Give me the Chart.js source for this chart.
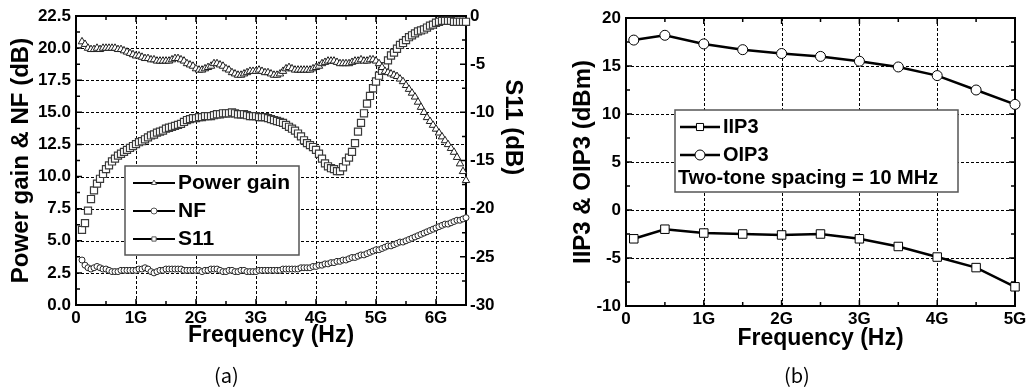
<!DOCTYPE html>
<html>
<head>
<meta charset="utf-8">
<script src="https://cdn.jsdelivr.net/npm/chart.js@4.4.1/dist/chart.umd.min.js"></script>
<style>
  html, body { margin: 0; padding: 0; background: #fff; }
  body { width: 1032px; height: 387px; position: relative; overflow: hidden; }
  #wrapA { position: absolute; left: 0; top: 0; width: 530px; height: 387px; }
  #wrapB { position: absolute; left: 530px; top: 0; width: 502px; height: 387px; }
  .caption { position: absolute; top: 360px; line-height: 24px; font: 20px "Noto Sans CJK KR", "DejaVu Sans", sans-serif; color: #000; }
</style>
</head>
<body>
<div id="wrapA"><canvas id="chartA" width="530" height="387"></canvas></div>
<div id="wrapB"><canvas id="chartB" width="502" height="387"></canvas></div>
<div class="caption" style="left:214px">(a)</div>
<div class="caption" style="left:784px">(b)</div>
<script>
// (a) frequency sweep, GHz
const freqA = [
    0.10, 0.15, 0.20, 0.25, 0.30, 0.35, 0.40, 0.45, 0.50, 0.55,
    0.60, 0.65, 0.70, 0.75, 0.80, 0.85, 0.90, 0.95, 1.00, 1.05,
    1.10, 1.15, 1.20, 1.25, 1.30, 1.35, 1.40, 1.45, 1.50, 1.55,
    1.60, 1.65, 1.70, 1.75, 1.80, 1.85, 1.90, 1.95, 2.00, 2.05,
    2.10, 2.15, 2.20, 2.25, 2.30, 2.35, 2.40, 2.45, 2.50, 2.55,
    2.60, 2.65, 2.70, 2.75, 2.80, 2.85, 2.90, 2.95, 3.00, 3.05,
    3.10, 3.15, 3.20, 3.25, 3.30, 3.35, 3.40, 3.45, 3.50, 3.55,
    3.60, 3.65, 3.70, 3.75, 3.80, 3.85, 3.90, 3.95, 4.00, 4.05,
    4.10, 4.15, 4.20, 4.25, 4.30, 4.35, 4.40, 4.45, 4.50, 4.55,
    4.60, 4.65, 4.70, 4.75, 4.80, 4.85, 4.90, 4.95, 5.00, 5.05,
    5.10, 5.15, 5.20, 5.25, 5.30, 5.35, 5.40, 5.45, 5.50, 5.55,
    5.60, 5.65, 5.70, 5.75, 5.80, 5.85, 5.90, 5.95, 6.00, 6.05,
    6.10, 6.15, 6.20, 6.25, 6.30, 6.35, 6.40, 6.45, 6.50
];
const powerGain = [
    20.5, 20.3, 20.0, 19.9, 19.9, 20.0, 19.9, 20.0, 20.0, 20.0,
    20.0, 20.0, 19.9, 19.9, 19.8, 19.7, 19.6, 19.5, 19.4, 19.4,
    19.3, 19.2, 19.2, 19.1, 19.1, 19.0, 19.0, 19.0, 19.0, 19.0,
    19.1, 19.2, 19.2, 19.1, 19.0, 18.8, 18.7, 18.6, 18.4, 18.3,
    18.3, 18.4, 18.5, 18.6, 18.8, 18.8, 18.7, 18.6, 18.4, 18.3,
    18.1, 18.0, 17.9, 17.9, 18.0, 18.1, 18.2, 18.2, 18.2, 18.3,
    18.2, 18.1, 18.1, 18.0, 17.9, 17.9, 18.0, 18.2, 18.4, 18.5,
    18.4, 18.3, 18.3, 18.3, 18.3, 18.3, 18.3, 18.4, 18.5, 18.6,
    18.8, 18.9, 19.0, 19.0, 19.0, 18.9, 18.8, 18.8, 18.8, 18.8,
    18.9, 19.0, 19.0, 19.1, 19.0, 19.0, 19.1, 19.1, 19.0, 18.8,
    18.5, 18.2, 18.1, 18.0, 17.9, 17.8, 17.6, 17.4, 17.1, 16.8,
    16.5, 16.2, 15.8, 15.4, 15.0, 14.6, 14.3, 14.0, 13.7, 13.4,
    13.1, 12.8, 12.5, 12.2, 11.9, 11.5, 11.0, 10.4, 9.7
];
const noiseFigure = [
    3.5, 3.1, 2.9, 2.8, 2.9, 3.0, 2.9, 2.8, 2.8, 2.7,
    2.6, 2.6, 2.6, 2.7, 2.7, 2.7, 2.7, 2.7, 2.7, 2.8,
    2.8, 2.9, 2.8, 2.6, 2.5, 2.6, 2.7, 2.7, 2.8, 2.8,
    2.8, 2.8, 2.8, 2.8, 2.7, 2.7, 2.7, 2.7, 2.7, 2.7,
    2.6, 2.7, 2.7, 2.8, 2.8, 2.8, 2.7, 2.6, 2.6, 2.7,
    2.7, 2.6, 2.6, 2.7, 2.7, 2.6, 2.6, 2.6, 2.6, 2.7,
    2.7, 2.7, 2.7, 2.7, 2.7, 2.7, 2.7, 2.8, 2.8, 2.8,
    2.8, 2.8, 2.8, 2.9, 2.9, 2.9, 2.9, 3.0, 3.0, 3.1,
    3.1, 3.2, 3.2, 3.3, 3.3, 3.4, 3.4, 3.5, 3.5, 3.6,
    3.7, 3.7, 3.8, 3.9, 3.9, 4.0, 4.1, 4.2, 4.3, 4.3,
    4.4, 4.5, 4.6, 4.6, 4.7, 4.8, 4.9, 4.9, 5.0, 5.1,
    5.2, 5.3, 5.4, 5.5, 5.6, 5.7, 5.8, 5.9, 6.0, 6.1,
    6.2, 6.3, 6.3, 6.4, 6.5, 6.6, 6.6, 6.7, 6.8
];
const s11 = [
    -22.2, -21.5, -20.2, -19.0, -18.1, -17.4, -16.9, -16.4, -15.9, -15.5,
    -15.1, -14.8, -14.5, -14.3, -14.1, -13.9, -13.7, -13.5, -13.3, -13.1,
    -13.0, -12.8, -12.6, -12.4, -12.3, -12.1, -12.0, -11.9, -11.7, -11.6,
    -11.5, -11.4, -11.3, -11.2, -11.0, -10.8, -10.7, -10.6, -10.6, -10.5,
    -10.5, -10.4, -10.4, -10.4, -10.3, -10.2, -10.2, -10.1, -10.1, -10.1,
    -10.0, -10.1, -10.2, -10.2, -10.2, -10.3, -10.4, -10.4, -10.4, -10.5,
    -10.5, -10.5, -10.6, -10.7, -10.8, -10.9, -11.0, -11.1, -11.3, -11.5,
    -11.7, -11.9, -12.2, -12.5, -12.9, -13.2, -13.4, -13.6, -13.9, -14.3,
    -14.8, -15.3, -15.6, -15.8, -15.9, -16.1, -16.1, -15.7, -15.1, -14.7,
    -14.1, -13.2, -12.0, -11.1, -10.1, -9.1, -8.3, -7.5, -6.8, -6.2,
    -5.7, -5.2, -4.6, -4.1, -3.8, -3.4, -3.0, -2.8, -2.5, -2.2,
    -2.0, -1.8, -1.6, -1.5, -1.4, -1.2, -1.0, -0.9, -0.7, -0.6,
    -0.5, -0.5, -0.5, -0.5, -0.6, -0.6, -0.6, -0.6, -0.6
];

// (b) linearity, GHz / dBm
const freqB = [0.1, 0.5, 1.0, 1.5, 2.0, 2.5, 3.0, 3.5, 4.0, 4.5, 5.0];
const iip3 = [-3.0, -2.0, -2.4, -2.5, -2.6, -2.5, -3.0, -3.8, -4.9, -6.0, -8.0];
const oip3 = [17.7, 18.2, 17.3, 16.7, 16.3, 16.0, 15.5, 14.9, 14.0, 12.5, 11.0];
const noteB = "Two-tone spacing = 10 MHz";

const FAMILY = '"Liberation Sans", Arial, sans-serif';
const tickFont = {family: FAMILY, size: 17, weight: "bold"};
const xTitleFont = {family: FAMILY, size: 23, weight: "bold"};
const yTitleFont = {family: FAMILY, size: 24, weight: "bold"};
const noTicks = {display: false, drawTicks: false};

function pts(xs, ys) {
    return xs.map((x, i) => ({x: x, y: ys[i]}));
}
function freqLabel(v) {
    return v === 0 ? "0" : v + "G";
}

function drawMarker(ctx, style, x, y, r, color, lw) {
    ctx.save();
    ctx.setLineDash([]);
    ctx.fillStyle = "#fff";
    ctx.strokeStyle = color;
    ctx.lineWidth = lw;
    ctx.beginPath();
    if (style === "circle") {
        ctx.arc(x, y, r, 0, Math.PI * 2);
    } else if (style === "rect") {
        const s = r * Math.SQRT1_2;
        ctx.rect(x - s, y - s, 2 * s, 2 * s);
    } else {
        const h = r * Math.sqrt(3) / 2;
        ctx.moveTo(x, y - r);
        ctx.lineTo(x + h, y + r / 2);
        ctx.lineTo(x - h, y + r / 2);
        ctx.closePath();
    }
    ctx.fill();
    ctx.stroke();
    ctx.restore();
}

// dashed grid, frame and inward ticks (Origin style)
function makeFrame(cfg) {
    function steps(scale, step) {
        const out = [];
        for (let v = scale.min; v <= scale.max + 1e-9; v += step) out.push(+v.toFixed(6));
        return out;
    }
    function isMajor(v, step) {
        const k = v / step;
        return Math.abs(k - Math.round(k)) < 1e-6;
    }
    return {
        id: "frame",
        beforeDatasetsDraw(chart) {
            const {ctx, chartArea: a, scales} = chart;
            const x = scales.x, y = scales.y, y2 = scales.y2 || scales.y;
            ctx.save();
            ctx.strokeStyle = "#000";
            ctx.lineWidth = 1;
            ctx.setLineDash([3, 2]);
            ctx.beginPath();
            steps(x, cfg.x[0]).forEach(v => {
                if (v <= x.min || v >= x.max) return;
                const px = Math.round(x.getPixelForValue(v)) + 0.5;
                ctx.moveTo(px, a.top);
                ctx.lineTo(px, a.bottom);
            });
            steps(y, cfg.y[0]).forEach(v => {
                if (v <= y.min || v >= y.max) return;
                const py = Math.round(y.getPixelForValue(v)) + 0.5;
                ctx.moveTo(a.left, py);
                ctx.lineTo(a.right, py);
            });
            ctx.stroke();

            ctx.setLineDash([]);
            ctx.lineWidth = 1.5;
            ctx.beginPath();
            steps(x, cfg.x[1]).forEach(v => {
                const px = x.getPixelForValue(v);
                const len = isMajor(v, cfg.x[0]) ? 6 : 4;
                ctx.moveTo(px, a.bottom);
                ctx.lineTo(px, a.bottom - len);
                ctx.moveTo(px, a.top);
                ctx.lineTo(px, a.top + len);
            });
            steps(y, cfg.y[1]).forEach(v => {
                const py = y.getPixelForValue(v);
                const len = isMajor(v, cfg.y[0]) ? 6 : 4;
                ctx.moveTo(a.left, py);
                ctx.lineTo(a.left + len, py);
            });
            steps(y2, cfg.y2[1]).forEach(v => {
                const py = y2.getPixelForValue(v);
                const len = isMajor(v, cfg.y2[0]) ? 6 : 4;
                ctx.moveTo(a.right, py);
                ctx.lineTo(a.right - len, py);
            });
            ctx.stroke();

            ctx.lineWidth = 2;
            ctx.strokeRect(a.left, a.top, a.right - a.left, a.bottom - a.top);
            ctx.restore();
        }
    };
}

// boxed legend inside the plot
function makeLegend(cfg) {
    return {
        id: "boxLegend",
        afterDatasetsDraw(chart) {
            const {ctx, chartArea: a} = chart;
            const bx = a.left + cfg.dx, by = a.top + cfg.dy;
            ctx.save();
            ctx.fillStyle = "#fff";
            ctx.fillRect(bx, by, cfg.w, cfg.h);
            ctx.strokeStyle = cfg.boxColor;
            ctx.lineWidth = 1.5;
            ctx.strokeRect(bx, by, cfg.w, cfg.h);
            ctx.font = cfg.font;
            ctx.textBaseline = "middle";
            chart.data.datasets.forEach((ds, i) => {
                const ly = by + cfg.rows[i];
                ctx.strokeStyle = "#000";
                ctx.lineWidth = cfg.lineWidth;
                ctx.beginPath();
                ctx.moveTo(bx + cfg.lineX[0], ly);
                ctx.lineTo(bx + cfg.lineX[1], ly);
                ctx.stroke();
                drawMarker(ctx, ds.pointStyle, bx + (cfg.lineX[0] + cfg.lineX[1]) / 2, ly,
                    cfg.markerR, cfg.markerColor, 1);
                ctx.fillStyle = "#000";
                ctx.fillText(ds.label, bx + cfg.textX, ly);
            });
            if (cfg.note) {
                ctx.fillStyle = "#000";
                ctx.fillText(cfg.note, bx + cfg.noteX, by + cfg.noteY);
            }
            ctx.restore();
        }
    };
}

// right-hand axis title, placed above centre like the original
const s11Title = {
    id: "s11Title",
    afterDraw(chart) {
        const {ctx, chartArea: a} = chart;
        ctx.save();
        ctx.translate(a.right + 47, a.top + (a.bottom - a.top) * 0.385);
        ctx.rotate(Math.PI / 2);
        ctx.font = "bold 24px " + FAMILY;
        ctx.textAlign = "center";
        ctx.textBaseline = "middle";
        ctx.fillStyle = "#000";
        ctx.fillText("S11 (dB)", 0, 0);
        ctx.restore();
    }
};

const baseOpts = {
    responsive: false,
    animation: false,
    events: [],
    plugins: {legend: {display: false}, tooltip: {enabled: false}},
};

// (a) Power gain, NF and S11
new Chart(document.getElementById("chartA"), {
    type: "scatter",
    data: {
        datasets: [{
            label: "Power gain",
            data: pts(freqA, powerGain),
            yAxisID: "y",
            pointStyle: "triangle",
            pointRadius: 4.3,
            pointBorderWidth: 1,
            pointBorderColor: "#1e1e1e",
            pointBackgroundColor: "#fff",
            clip: false,
        }, {
            label: "NF",
            data: pts(freqA, noiseFigure),
            yAxisID: "y",
            pointStyle: "circle",
            pointRadius: 3,
            pointBorderWidth: 1,
            pointBorderColor: "#2a2a2a",
            pointBackgroundColor: "#fff",
            clip: false,
        }, {
            label: "S11",
            data: pts(freqA, s11),
            yAxisID: "y2",
            pointStyle: "rect",
            pointRadius: 5,
            pointBorderWidth: 1.2,
            pointBorderColor: "#3a3a3a",
            pointBackgroundColor: "#fff",
            clip: false,
        }]
    },
    options: Object.assign({}, baseOpts, {
        layout: {padding: {top: 16, bottom: 38, left: 0, right: 0}},
        scales: {
            x: {
                type: "linear", min: 0, max: 6.5,
                afterFit: s => { s.height = 44; },
                grid: noTicks, border: {display: false},
                ticks: {stepSize: 1, includeBounds: false, padding: 3, maxRotation: 0,
                    color: "#000", font: tickFont, callback: freqLabel},
                title: {display: true, text: "Frequency (Hz)", color: "#000", font: xTitleFont, padding: 0},
            },
            y: {
                position: "left", min: 0, max: 22.5,
                afterFit: s => { s.width = 76; },
                grid: noTicks, border: {display: false},
                ticks: {stepSize: 2.5, padding: 5, color: "#000", font: tickFont,
                    callback: v => v.toFixed(1)},
                title: {display: true, text: "Power gain & NF (dB)", color: "#000", font: yTitleFont,
                    padding: {top: 7, bottom: 0}},
            },
            y2: {
                position: "right", min: -30, max: 0,
                afterFit: s => { s.width = 64; },
                grid: noTicks, border: {display: false},
                ticks: {stepSize: 5, padding: 4, color: "#000", font: tickFont},
            }
        }
    }),
    plugins: [
        makeFrame({x: [1, 0.5], y: [2.5, 1.25], y2: [5, 2.5]}),
        makeLegend({dx: 49, dy: 150, w: 174, h: 89, boxColor: "#555",
            rows: [17, 45, 73], lineX: [8, 50], textX: 53,
            lineWidth: 2, markerR: 3, markerColor: "#555",
            font: "bold 21px " + FAMILY}),
        s11Title,
    ],
});

// (b) IIP3 and OIP3
new Chart(document.getElementById("chartB"), {
    type: "scatter",
    data: {
        datasets: [{
            label: "IIP3",
            data: pts(freqB, iip3),
            showLine: true,
            borderColor: "#000",
            borderWidth: 2.5,
            pointStyle: "rect",
            pointRadius: 6,
            pointBorderWidth: 1,
            pointBorderColor: "#000",
            pointBackgroundColor: "#fff",
            clip: false,
        }, {
            label: "OIP3",
            data: pts(freqB, oip3),
            showLine: true,
            borderColor: "#000",
            borderWidth: 2.5,
            pointStyle: "circle",
            pointRadius: 5,
            pointBorderWidth: 1,
            pointBorderColor: "#000",
            pointBackgroundColor: "#fff",
            clip: false,
        }]
    },
    options: Object.assign({}, baseOpts, {
        layout: {padding: {top: 18, bottom: 35, left: 0, right: 17}},
        scales: {
            x: {
                type: "linear", min: 0, max: 5,
                afterFit: s => { s.height = 46; },
                grid: noTicks, border: {display: false},
                ticks: {stepSize: 1, padding: 3, maxRotation: 0,
                    color: "#000", font: tickFont, callback: freqLabel},
                title: {display: true, text: "Frequency (Hz)", color: "#000", font: xTitleFont, padding: 0},
            },
            y: {
                position: "left", min: -10, max: 20,
                afterFit: s => { s.width = 96; },
                grid: noTicks, border: {display: false},
                ticks: {stepSize: 5, padding: 5, color: "#000", font: tickFont},
                title: {display: true, text: "IIP3 & OIP3 (dBm)", color: "#000", font: yTitleFont,
                    padding: {top: 39, bottom: 0}},
            }
        }
    }),
    plugins: [
        makeFrame({x: [1, 0.5], y: [5, 2.5], y2: [5, 2.5]}),
        makeLegend({dx: 49, dy: 92, w: 283, h: 82, boxColor: "#555",
            rows: [17, 45], lineX: [5, 45], textX: 48,
            lineWidth: 2.5, markerR: 5, markerColor: "#000",
            font: "bold 20px " + FAMILY,
            note: noteB, noteX: 3, noteY: 68}),
    ],
});
</script>
</body>
</html>
